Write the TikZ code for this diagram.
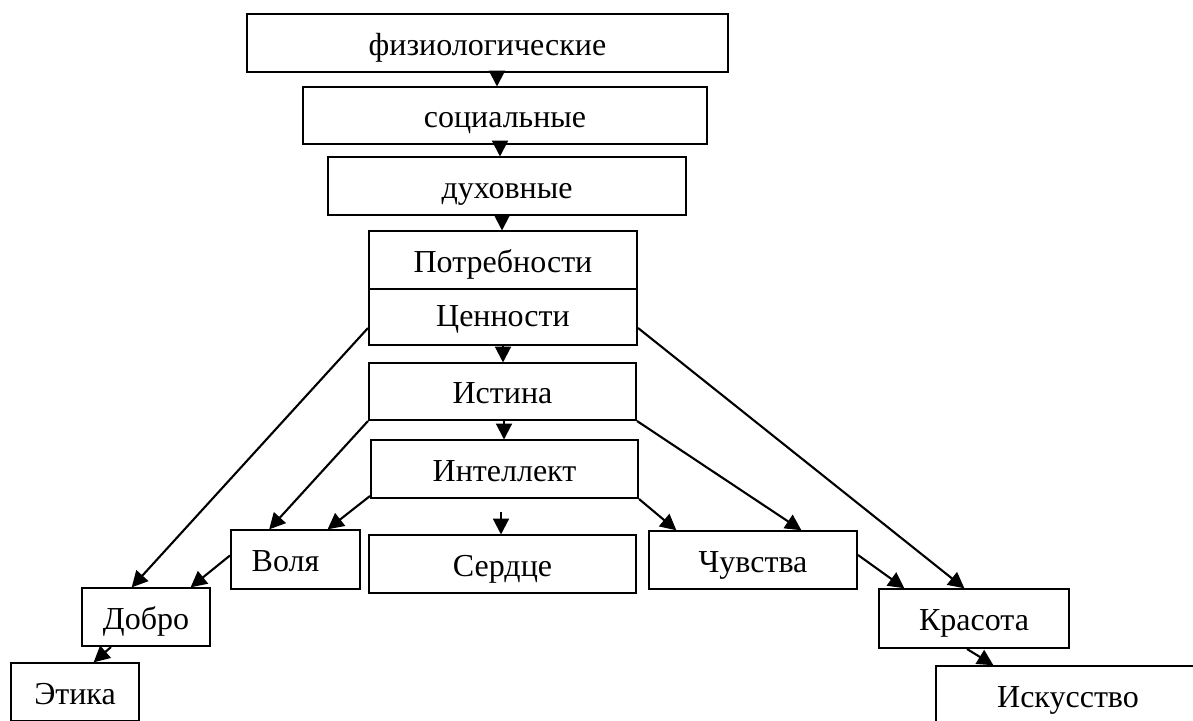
\documentclass[tikz,border=0pt]{standalone}
\usepackage{fontspec}
\setmainfont{Liberation Serif}
\usetikzlibrary{arrows.meta}
\tikzset{
  boxnode/.style={draw=black, line width=2pt, inner sep=0pt, anchor=center,
    text height=30pt, text depth=6pt, font=\fontsize{32}{36}\selectfont},
  arr/.style={line width=2.1pt, -{Triangle[length=16pt,width=16pt]}, shorten >=-0.5pt}
}
\newcommand{\bx}[6]{\node[boxnode, minimum width=#4pt, minimum height=#5pt] (#1) at (#2,#3) {#6};}
\begin{document}
\begin{tikzpicture}[x=1pt,y=-1pt]
\useasboundingbox (0,0) rectangle (1193,720);
\clip (0,0) rectangle (1193,720);
\fill[white] (0,0) rectangle (1193,720);
\bx{fiz}{487.5}{43}{481}{58}{физиологические}
\bx{soc}{505}{115.5}{404}{57}{социальные}
\bx{duh}{507}{186}{358}{58}{духовные}
\bx{potr}{503}{260}{268}{58}{Потребности}
\bx{cen}{503}{317}{268}{56}{\raisebox{3pt}{Ценности}}
\bx{ist}{502.5}{391.5}{267}{57}{Истина}
\bx{int}{504.5}{469}{267}{58}{Интеллект}
\bx{serd}{502.5}{564}{267}{58}{Сердце}
\bx{vol}{295.5}{559.5}{129}{59}{\hspace*{-20pt}Воля}
\bx{chuv}{753}{560}{208}{58}{Чувства}
\bx{dob}{146}{617}{128}{58}{Добро}
\bx{kras}{974}{618.5}{190}{59}{Красота}
\bx{etik}{75}{692}{128}{58}{Этика}
\bx{isk}{1068}{695}{264}{58}{Искусство}

\draw[arr] ([xshift=9.5pt]fiz.south) -- ([xshift=-8pt]soc.north);
\draw[arr] ([xshift=-5pt]soc.south) -- ([xshift=-7pt]duh.north);
\draw[arr] ([xshift=-5pt]duh.south) -- ([xshift=-1pt]potr.north);
\draw[arr] (cen.south) -- ([xshift=0.5pt]ist.north);
\draw[arr] ([xshift=1.5pt]ist.south) -- ([xshift=-0.5pt]int.north);
\draw[arr] ([xshift=-3.5pt,yshift=-13pt]int.south) -- ([xshift=-1.5pt]serd.north);

\draw[arr] ([yshift=-11pt]cen.west) -- ([xshift=-14pt]dob.north);
\draw[arr] ([yshift=-11pt]cen.east) -- ([xshift=-10pt]kras.north);
\draw[arr] (ist.south west) -- ([xshift=-26pt]vol.north);
\draw[arr] ([yshift=3pt]int.south west) -- ([xshift=-33pt]vol.north east);
\draw[arr] ([yshift=4pt]vol.west) -- ([xshift=-20pt]dob.north east);
\draw[arr] ([xshift=-35pt]dob.south) -- ([xshift=19pt]etik.north);
\draw[arr] (ist.south east) -- ([xshift=48pt]chuv.north);
\draw[arr] (int.south east) -- ([xshift=28pt]chuv.north west);
\draw[arr] ([yshift=5pt]chuv.east) -- ([xshift=26pt]kras.north west);
\draw[arr] ([xshift=-7pt]kras.south) -- ([xshift=58pt]isk.north west);
\end{tikzpicture}
\end{document}
